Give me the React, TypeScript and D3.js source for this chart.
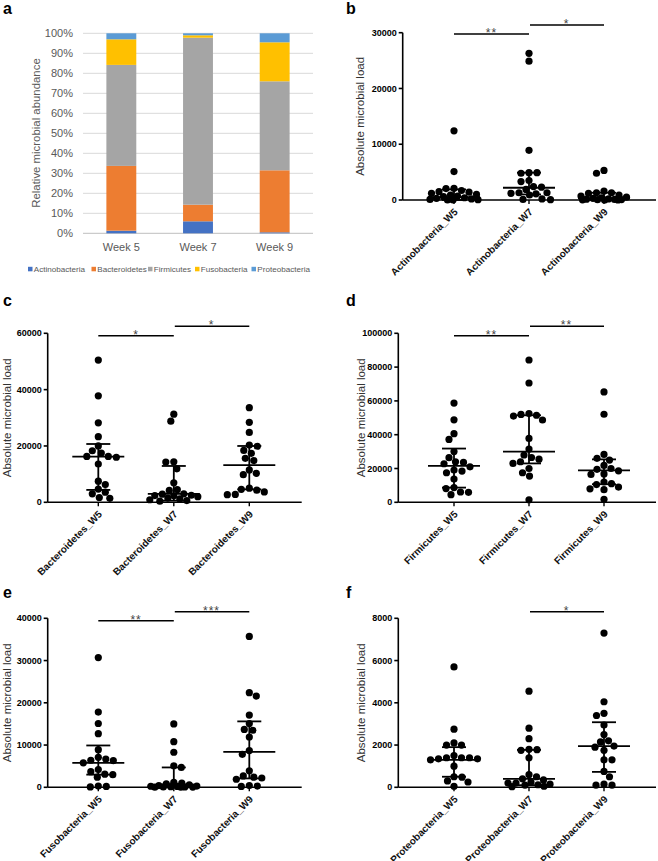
import React from "react";
import * as d3 from "d3";

// ---------- Panel a: relative abundance (%) ----------
const WEEKS = ["Week 5", "Week 7", "Week 9"];
const PHYLA = ["Actinobacteria", "Bacteroidetes", "Firmicutes", "Fusobacteria", "Proteobacteria"];
const PHYLA_COLORS = ["#4472C4", "#ED7D31", "#A5A5A5", "#FFC000", "#5B9BD5"];
const actinobacteriaRel = [1.3, 6.0, 0.5];
const bacteroidetesRel = [32.4, 8.3, 31.0];
const firmicutesRel = [50.5, 83.5, 44.5];
const fusobacteriaRel = [12.8, 1.2, 19.5];
const proteobacteriaRel = [3.0, 1.0, 4.5];
const PCT_TICKS = [0, 10, 20, 30, 40, 50, 60, 70, 80, 90, 100];

// ---------- Panels b-f: absolute microbial load ----------
const actinoW5 = [12400, 5100, 2100, 2050, 1700, 1500, 1400, 1200, 1000, 900, 700, 600, 400, 300, 200, 100, 50, 0, 0];
const actinoW7 = [26300, 24900, 8900, 4900, 4900, 4800, 3500, 3300, 2400, 2300, 1900, 1300, 1300, 1200, 1100, 900, 200, 100, 50];
const actinoW9 = [5300, 4800, 1600, 1300, 1300, 1200, 900, 700, 500, 400, 300, 200, 150, 100, 80, 60, 40, 20, 10];
const actinoMedian = [500, 2200, 300];
const actinoQ1 = [0, 1000, 0];
const actinoQ3 = [1900, 4900, 1300];

const bactW5 = [50500, 37800, 28200, 23300, 20000, 18300, 17500, 16300, 16300, 16000, 13600, 7500, 6300, 4700, 3600, 3000, 1700, 1400];
const bactW7 = [31300, 28800, 14400, 14300, 11900, 6900, 4500, 4200, 3000, 2900, 2500, 2400, 2300, 2000, 1500, 1200, 900, 600, 400];
const bactW9 = [33600, 28400, 24800, 20300, 19900, 18400, 17400, 15600, 14800, 11500, 10300, 9800, 5000, 4600, 4300, 3700, 2800, 2700];
const bactMedian = [16200, 3000, 13200];
const bactQ1 = [4400, 600, 4600];
const bactQ3 = [20700, 12900, 20000];

const firmW5 = [58700, 48800, 40600, 37200, 30000, 26400, 24000, 23600, 22800, 21000, 19100, 18500, 17500, 13800, 8700, 8100, 6100, 5900, 4500];
const firmW7 = [84200, 70600, 52500, 52000, 51500, 51000, 48700, 37800, 31500, 28000, 26500, 25500, 24000, 23000, 20000, 17500, 15500, 1500];
const firmW9 = [65300, 52100, 28300, 26000, 25000, 21800, 20000, 19500, 18600, 16800, 16500, 12000, 11000, 10500, 9000, 8000, 7500, 1800];
const firmMedian = [21500, 30000, 18900];
const firmQ1 = [8700, 23000, 10700];
const firmQ3 = [31800, 51500, 25400];

const fusoW5 = [30700, 17800, 15100, 12700, 8900, 7100, 6700, 6400, 6300, 5800, 4200, 3700, 3100, 3000, 2400, 300, 200, 100];
const fusoW7 = [15000, 10800, 8300, 5100, 4700, 1200, 1000, 800, 600, 400, 300, 250, 200, 150, 100, 80, 50, 30, 10];
const fusoW9 = [35700, 22400, 21600, 17100, 15100, 13700, 13500, 11900, 8700, 7800, 3900, 2700, 2400, 2200, 1900, 400, 300, 200];
const fusoMedian = [5800, 300, 8400];
const fusoQ1 = [3000, 0, 2100];
const fusoQ3 = [9900, 4700, 15600];

const proteoW5 = [5700, 2750, 2100, 2000, 2000, 1500, 1400, 1400, 1400, 1350, 1350, 1300, 1000, 500, 480, 300, 250, 50];
const proteoW7 = [4550, 2800, 2300, 1800, 1780, 1750, 1400, 600, 500, 400, 350, 250, 200, 200, 150, 120, 100, 50, 30];
const proteoW9 = [7300, 4050, 3500, 3400, 2950, 2500, 2200, 2150, 1950, 1900, 1750, 1300, 1300, 750, 500, 150, 100, 100];
const proteoMedian = [1300, 400, 1950];
const proteoQ1 = [500, 100, 730];
const proteoQ3 = [1900, 1770, 3080];

const actinoSig = [[0, 1, "**"], [1, 2, "*"]];
const bactSig = [[0, 1, "*"], [1, 2, "*"]];
const firmSig = [[0, 1, "**"], [1, 2, "**"]];
const fusoSig = [[0, 1, "**"], [1, 2, "***"]];
const proteoSig = [[1, 2, "*"]];

const FONT = "'Liberation Sans', Arial, Helvetica, sans-serif";

// Prism-like scatter spread: avoid overlaps, but keep within a max half-width (overlap if needed)
function swarm(values: number[], y: (v: number) => number, cx: number, r: number, maxHalf: number) {
  const d = 2 * r + 0.4;
  const order = values.map((_, i) => i).sort((a, b) => values[b] - values[a]);
  const placed: { x: number; y: number }[] = [];
  const xs: number[] = new Array(values.length);
  order.forEach((i, n) => {
    const yi = y(values[i]);
    const cands: number[] = [0];
    for (let s = 0.5; s <= maxHalf; s += 0.5) {
      if (n % 2 === 0) cands.push(s, -s);
      else cands.push(-s, s);
    }
    let chosen: number | null = null;
    let best = 0, bestScore = -1;
    for (const o of cands) {
      let minD = Infinity;
      for (const p of placed) minD = Math.min(minD, Math.hypot(p.x - o, p.y - yi));
      if (minD >= d) { chosen = o; break; }
      if (minD > bestScore + 0.01) { bestScore = minD; best = o; }
    }
    const xo = chosen === null ? best : chosen;
    placed.push({ x: xo, y: yi });
    xs[i] = cx + xo;
  });
  return xs;
}

function PanelA() {
  const x = d3.scaleBand<string>().domain(WEEKS).range([83, 313]).paddingInner(0.61).paddingOuter(0.305);
  const y = d3.scaleLinear().domain([0, 100]).range([233.3, 33.3]);
  const series = [actinobacteriaRel, bacteroidetesRel, firmicutesRel, fusobacteriaRel, proteobacteriaRel];
  const rows = WEEKS.map((w, i) => {
    const o: any = { week: w };
    PHYLA.forEach((p, j) => (o[p] = series[j][i]));
    return o;
  });
  const stacked = d3.stack().keys(PHYLA)(rows);
  const legendX = [28, 91.5, 148, 195, 251.5];
  return (
    <g fontFamily={FONT}>
      <text x={3} y={13.5} fontSize={16} fontWeight="bold">a</text>
      {PCT_TICKS.map((t) => (
        <g key={t}>
          <line x1={83} x2={313} y1={y(t)} y2={y(t)} stroke={t === 0 ? "#BFBFBF" : "#D9D9D9"} strokeWidth={1} />
          <text x={73} y={y(t)} dy="0.35em" textAnchor="end" fontSize={11} fill="#595959">{t}%</text>
        </g>
      ))}
      {stacked.map((s, j) => (
        <g key={PHYLA[j]} fill={PHYLA_COLORS[j]}>
          {s.map((dd, i) => (
            <rect key={i} x={x(WEEKS[i])} width={x.bandwidth()} y={y(dd[1])} height={y(dd[0]) - y(dd[1])} />
          ))}
        </g>
      ))}
      {WEEKS.map((w) => (
        <text key={w} x={(x(w) as number) + x.bandwidth() / 2} y={251} textAnchor="middle" fontSize={11} fill="#595959">{w}</text>
      ))}
      <text transform={`translate(36,133) rotate(-90)`} textAnchor="middle" dy="0.35em" fontSize={11.4} fill="#595959">
        Relative microbial abundance
      </text>
      {PHYLA.map((p, j) => (
        <g key={p}>
          <rect x={legendX[j]} y={266.8} width={4.5} height={4.5} fill={PHYLA_COLORS[j]} />
          <text x={legendX[j] + 5.8} y={269} dy="0.35em" fontSize={8.1} fill="#595959">{p}</text>
        </g>
      ))}
    </g>
  );
}

type Cfg = {
  label: string; lx: number; ly: number;
  ax: number; y0: number; yTop: number; xEnd: number; c0: number; c2: number;
  max: number; step: number; titleX: number; sigY: number[];
  name: string; groups: number[][]; med: number[]; q1: number[]; q3: number[]; sig: any[];
};

function Scatter({ cfg }: { cfg: Cfg }) {
  const cats = ["W5", "W7", "W9"].map((w) => `${cfg.name}_${w}`);
  const x = d3.scalePoint<string>().domain(cats).range([cfg.c0, cfg.c2]);
  const y = d3.scaleLinear().domain([0, cfg.max]).range([cfg.y0, cfg.yTop]);
  const ticks = d3.range(0, cfg.max + 1, cfg.step);
  const r = 3.6;
  return (
    <g fontFamily={FONT}>
      <text x={cfg.lx} y={cfg.ly} fontSize={16} fontWeight="bold">{cfg.label}</text>
      {cats.map((c, gi) => {
        const cx = x(c) as number;
        const xs = swarm(cfg.groups[gi], y, cx, r, 24);
        return (
          <g key={c}>
            {cfg.groups[gi].map((v, i) => (
              <circle key={i} cx={xs[i]} cy={y(v)} r={r} fill="#000" />
            ))}
            <g stroke="#000" strokeWidth={1.8}>
              <line x1={cx - 26} x2={cx + 26} y1={y(cfg.med[gi])} y2={y(cfg.med[gi])} />
              <line x1={cx} x2={cx} y1={y(cfg.q1[gi])} y2={y(cfg.q3[gi])} />
              <line x1={cx - 12} x2={cx + 12} y1={y(cfg.q1[gi])} y2={y(cfg.q1[gi])} />
              <line x1={cx - 12} x2={cx + 12} y1={y(cfg.q3[gi])} y2={y(cfg.q3[gi])} />
            </g>
            <line x1={cx} x2={cx} y1={cfg.y0} y2={cfg.y0 + 4} stroke="#000" strokeWidth={1.4} />
            <text
              transform={`translate(${cx + 2},${cfg.y0 + 10}) rotate(-45)`}
              textAnchor="end"
              dy="0.35em"
              fontSize={10}
              fontWeight="bold"
              fill="#111"
            >
              {c}
            </text>
          </g>
        );
      })}
      <g stroke="#000" strokeWidth={1.6}>
        <line x1={cfg.ax} x2={cfg.ax} y1={cfg.yTop} y2={cfg.y0} />
        <line x1={cfg.ax} x2={cfg.xEnd} y1={cfg.y0} y2={cfg.y0} />
        {ticks.map((t) => (
          <line key={t} x1={cfg.ax - 4} x2={cfg.ax} y1={y(t)} y2={y(t)} />
        ))}
      </g>
      {ticks.map((t) => (
        <text key={t} x={cfg.ax - 6} y={y(t)} dy="0.35em" textAnchor="end" fontSize={9} fontWeight="bold">{t}</text>
      ))}
      <text
        transform={`translate(${cfg.titleX},${(cfg.y0 + cfg.yTop) / 2}) rotate(-90)`}
        textAnchor="middle"
        dy="0.35em"
        fontSize={11.5}
        fill="#333"
      >
        Absolute microbial load
      </text>
      {cfg.sig.map((s, k) => {
        const xa = x(cats[s[0]]) as number;
        const xb = x(cats[s[1]]) as number;
        const yy = cfg.sigY[k];
        return (
          <g key={k}>
            <line x1={xa + (s[0] > 0 ? 1 : 0)} x2={xb} y1={yy} y2={yy} stroke="#000" strokeWidth={1.6} />
            <text x={(xa + xb) / 2} y={yy + 3} textAnchor="middle" fontSize={12} fill="#444" letterSpacing={1}>{s[2]}</text>
          </g>
        );
      })}
    </g>
  );
}

export default function App() {
  const left = { ax: 47.7, xEnd: 301.7, c0: 98.3, c2: 249.3, titleX: 6.5, lx: 3 };
  const right = { ax: 398.3, xEnd: 656, c0: 454, c2: 604, titleX: 361, lx: 346 };
  const cfgs: Cfg[] = [
    { ...right, ax: 402.7, label: "b", ly: 13.5, y0: 200, yTop: 32.7, max: 30000, step: 10000, titleX: 360, sigY: [34, 25],
      name: "Actinobacteria", groups: [actinoW5, actinoW7, actinoW9], med: actinoMedian, q1: actinoQ1, q3: actinoQ3, sig: actinoSig },
    { ...left, label: "c", ly: 306, y0: 502.3, yTop: 333.3, max: 60000, step: 20000, sigY: [335.7, 326.3],
      name: "Bacteroidetes", groups: [bactW5, bactW7, bactW9], med: bactMedian, q1: bactQ1, q3: bactQ3, sig: bactSig },
    { ...right, label: "d", ly: 306, y0: 502.3, yTop: 333.3, max: 100000, step: 20000, sigY: [335.7, 326.3],
      name: "Firmicutes", groups: [firmW5, firmW7, firmW9], med: firmMedian, q1: firmQ1, q3: firmQ3, sig: firmSig },
    { ...left, label: "e", ly: 598, y0: 787.3, yTop: 618.3, max: 40000, step: 10000, sigY: [620.7, 611.7],
      name: "Fusobacteria", groups: [fusoW5, fusoW7, fusoW9], med: fusoMedian, q1: fusoQ1, q3: fusoQ3, sig: fusoSig },
    { ...right, label: "f", ly: 598, y0: 787.3, yTop: 618.3, max: 8000, step: 2000, sigY: [611.7],
      name: "Proteobacteria", groups: [proteoW5, proteoW7, proteoW9], med: proteoMedian, q1: proteoQ1, q3: proteoQ3, sig: proteoSig },
  ];
  return (
    <svg width={658} height={861} style={{ position: "absolute", left: 0, top: 0, background: "#fff" }}>
      <rect width={658} height={861} fill="#fff" />
      <PanelA />
      {cfgs.map((c) => (
        <Scatter key={c.label} cfg={c} />
      ))}
    </svg>
  );
}
